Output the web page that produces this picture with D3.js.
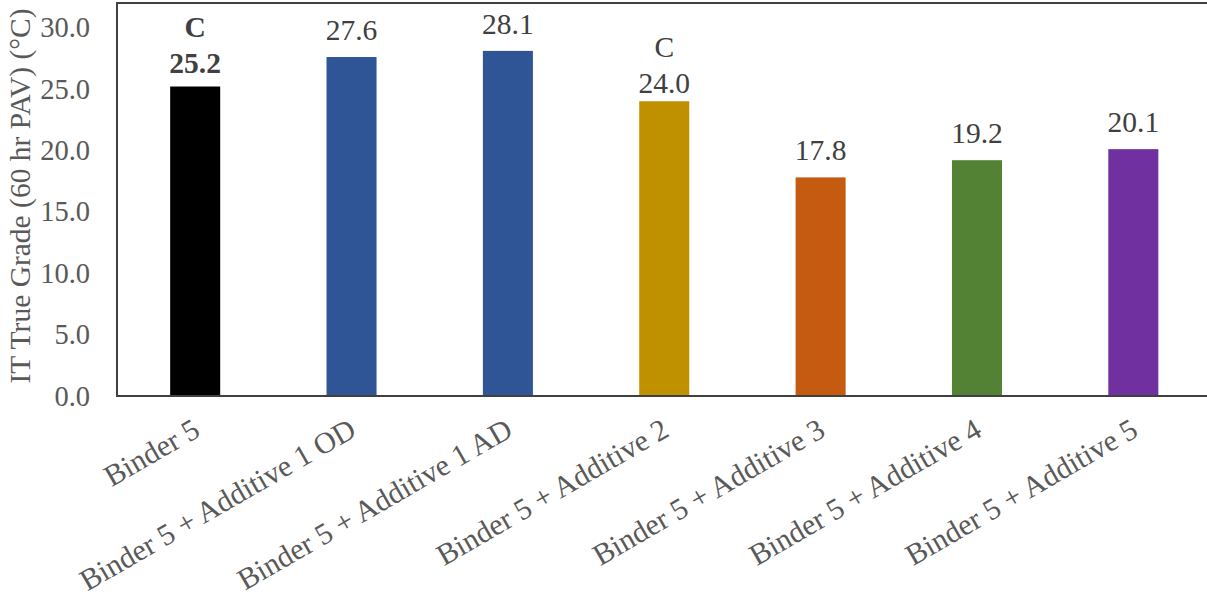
<!DOCTYPE html>
<html><head><meta charset="utf-8">
<script src="https://cdn.jsdelivr.net/npm/d3@7"></script>
<style>body{margin:0;background:#fff}svg{display:block}
svg text{font-family:"Liberation Serif","Times New Roman",serif;}
</style>
</head><body>
<svg id="c" width="1207" height="602"></svg>
<script>
const categories = ["Binder 5","Binder 5 + Additive 1 OD","Binder 5 + Additive 1 AD","Binder 5 + Additive 2","Binder 5 + Additive 3","Binder 5 + Additive 4","Binder 5 + Additive 5"];
const values = [25.2, 27.6, 28.1, 24.0, 17.8, 19.2, 20.1];
const groupLetters = ["C", "", "", "C", "", "", ""];
const boldLabel = [true, false, false, false, false, false, false];
const colors = ["#000000","#2F5597","#2F5597","#BF9000","#C55A11","#548235","#7030A0"];
const yTicks = [0, 5, 10, 15, 20, 25, 30];
const yTitle = "IT True Grade (60 hr PAV) (°C)";

const svg = d3.select("#c");
const font = "Liberation Serif";
const m = {left: 117, top: 3, bottom: 396, right: 1211.5};

const x = d3.scaleBand().domain(categories).range([m.left, m.right]).paddingInner(0.68).paddingOuter(0.34);
const y = d3.scaleLinear().domain([0, 32]).range([m.bottom, m.top]);

// bars
svg.append("g").selectAll("rect").data(values).join("rect")
  .attr("x", (d,i) => x(categories[i]))
  .attr("width", x.bandwidth())
  .attr("y", d => y(d))
  .attr("height", d => y(0) - y(d))
  .attr("fill", (d,i) => colors[i]);

// frame
svg.append("rect").attr("x", m.left).attr("y", m.top).attr("width", m.right - m.left).attr("height", m.bottom - m.top)
  .attr("fill", "none").attr("stroke", "#404040").attr("stroke-width", 2);

// y axis
const yAxis = d3.axisLeft(y).tickValues(yTicks).tickFormat(d3.format(".1f")).tickSize(0).tickPadding(27);
const ga = svg.append("g").attr("transform", `translate(${m.left},0)`).call(yAxis);
ga.attr("font-family", font).attr("font-size", 28.5);
ga.select(".domain").remove();
ga.selectAll("text").attr("font-family", font).attr("font-size", 28.5).attr("fill", "#595959");

// y title
svg.append("text").attr("transform", `translate(30,${196}) rotate(-90)`)
  .attr("text-anchor", "middle").attr("font-family", font).attr("font-size", 29.5).attr("fill", "#595959")
  .text(yTitle);

// x labels
svg.append("g").selectAll("text").data(categories).join("text")
  .attr("transform", d => `translate(${x(d) + x.bandwidth()/2 - 4},${m.bottom + 21}) rotate(-30)`)
  .attr("text-anchor", "end").attr("dy", "0.7em")
  .attr("font-family", font).attr("font-size", 30).attr("fill", "#595959")
  .text(d => d);

// value labels
const lab = svg.append("g");
values.forEach((v, i) => {
  const cx = x(categories[i]) + x.bandwidth()/2;
  const hasLetter = groupLetters[i] !== "";
  const off = hasLetter ? (boldLabel[i] ? 14 : 8) : 17;
  const base = y(v) - off;
  lab.append("text").attr("x", cx).attr("y", base).attr("text-anchor", "middle")
    .attr("font-family", font).attr("font-size", 29.5).attr("fill", "#404040")
    .attr("font-weight", boldLabel[i] ? "bold" : "normal").text(d3.format(".1f")(v));
  if (hasLetter) {
    lab.append("text").attr("x", cx).attr("y", base - 36).attr("text-anchor", "middle")
      .attr("font-family", font).attr("font-size", 29.5).attr("fill", "#404040")
      .attr("font-weight", boldLabel[i] ? "bold" : "normal").text(groupLetters[i]);
  }
});
</script>
</body></html>
